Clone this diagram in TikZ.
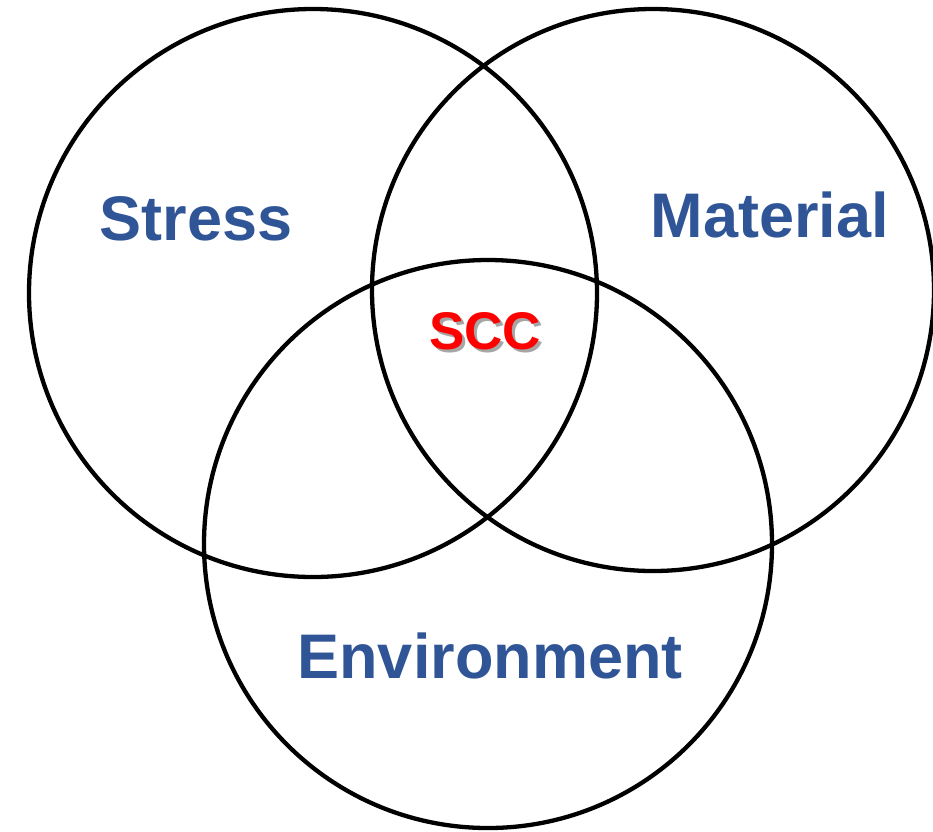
\documentclass[tikz,border=0pt]{standalone}
\usepackage{fontspec}
\setmainfont{Liberation Sans}
\usepackage{tikz}
\definecolor{factorblue}{RGB}{47,85,151}
\tikzset{
ring/.style={circle,draw=black,line width=4.3pt,inner sep=0pt},
factor/.style={font=\fontsize{63}{63}\selectfont\bfseries,text=factorblue,inner sep=0pt},
core/.style={font=\fontsize{53}{53}\selectfont\bfseries,inner sep=0pt}
}

\begin{document}
\begin{tikzpicture}[x=1pt,y=-1pt]
\useasboundingbox (0,0) rectangle (933,831);
% the three circles
\node[ring,minimum size=568pt] (stressring) at (313,293) {};
\node[ring,minimum size=562pt] (materialring) at (653,290) {};
\node[ring,minimum size=568pt] (envring) at (488,544) {};

% labels
\node[factor] (stress) at (196,219) {Stress};
\node[factor] (material) at (770,215) {Material};
\node[factor] (env) at (490,656) {Environment};

% overlap, with a soft shadow
\node[core,text=black!35] (sccshadow) at (488,334) {SCC};
\node[core,text=red] (scc) at (485,331) {SCC};
\end{tikzpicture}
\end{document}
